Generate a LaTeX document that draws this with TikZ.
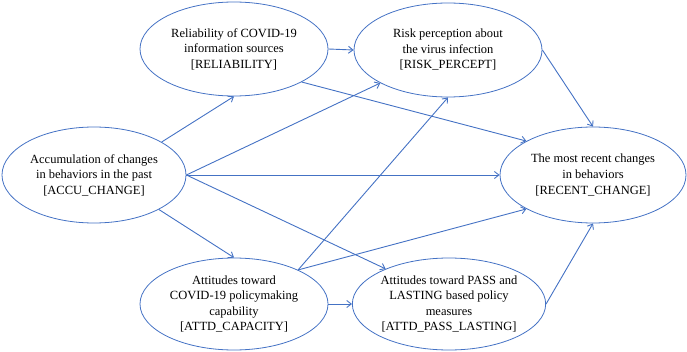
\documentclass[tikz,border=0pt]{standalone}
\usepackage{fontspec}
\setmainfont{Liberation Serif}
\usetikzlibrary{shapes.geometric,arrows.meta}
\definecolor{lblue}{HTML}{4472C4}
\begin{document}
\begin{tikzpicture}[x=1pt,y=1pt,
  var/.style={ellipse,draw=lblue,line width=0.8pt,inner sep=0pt,align=center,
    font=\fontsize{12.5}{15.5}\selectfont},
  conn/.style={draw=lblue,line width=0.9pt,-{Straight Barb[length=4.5pt,width=7pt]}}]
\useasboundingbox (0,0) rectangle (687,351);
\node[var,minimum width=188,minimum height=94] (rel) at (234,302) {Reliability of COVID-19\\information sources\\{[RELIABILITY]}};
\node[var,minimum width=188,minimum height=94] (risk) at (448,301) {Risk perception about\\the virus infection\\{[RISK\_PERCEPT]}};
\node[var,minimum width=184,minimum height=96] (accu) at (94,176) {Accumulation of changes\\in behaviors in the past\\{[ACCU\_CHANGE]}};
\node[var,minimum width=186,minimum height=96] (recent) at (593,176) {The most recent changes\\in behaviors\\{[RECENT\_CHANGE]}};
\node[var,minimum width=188,minimum height=92] (cap) at (234,47) {Attitudes toward\\COVID-19 policymaking\\capability\\{[ATTD\_CAPACITY]}};
\node[var,minimum width=188,minimum height=92] (pass) at (449,47) {Attitudes toward PASS and\\LASTING based policy\\measures\\{[ATTD\_PASS\_LASTING]}};
\draw[conn] (accu.26.6) -- (rel.south);
\draw[conn] (rel.east) -- (risk.west);
\draw[conn] (accu.east) -- (risk.206);
\draw[conn] (rel.334) -- (recent.153.4);
\draw[conn] (risk.east) -- (recent.north);
\draw[conn] (accu.east) -- (recent.west);
\draw[conn] (accu.332) -- (cap.north);
\draw[conn] (accu.east) -- (pass.151.7);
\draw[conn] (cap.28.6) -- (risk.south);
\draw[conn] (cap.28.6) -- (recent.207);
\draw[conn] (cap.east) -- (pass.west);
\draw[conn] (pass.east) -- (recent.south);
\end{tikzpicture}
\end{document}
